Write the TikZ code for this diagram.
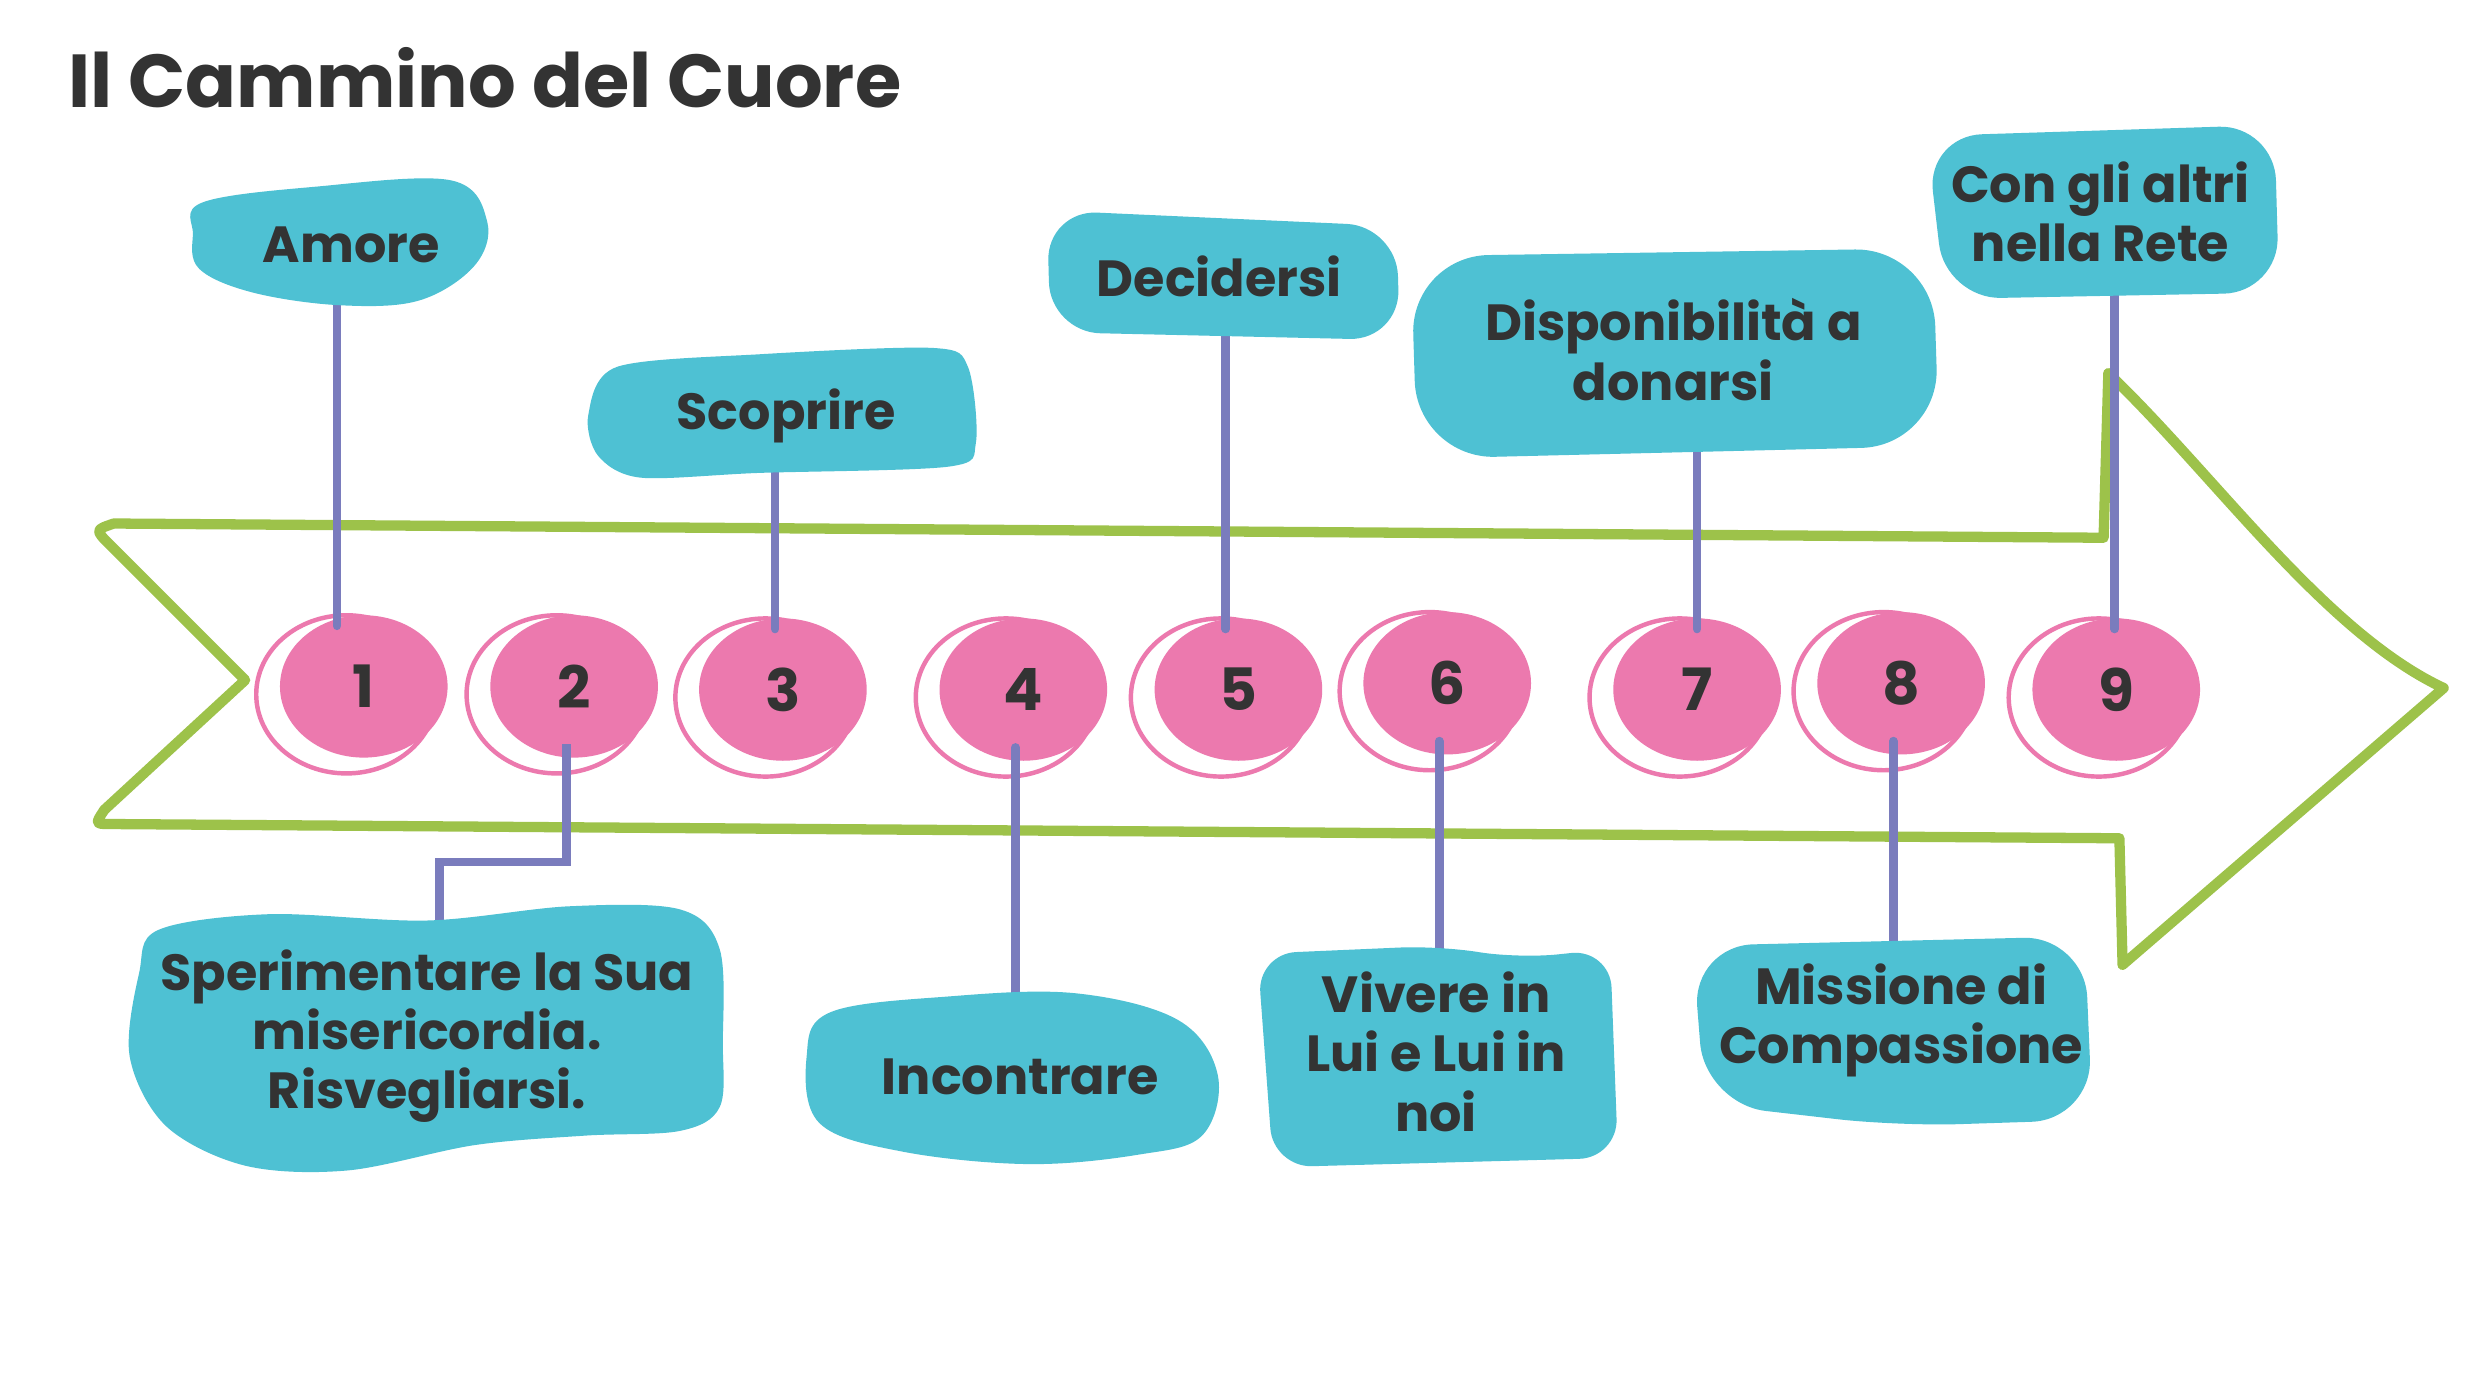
\documentclass[tikz,border=0pt]{standalone}
\usepackage{fontspec}
\setmainfont{Lato}
\newfontfamily\lblfont{Poppins}
\usetikzlibrary{shapes.geometric,calc}
\definecolor{grn}{HTML}{9DC24A}
\definecolor{pnk}{HTML}{EC79AE}
\definecolor{teal2}{HTML}{4EC1D3}
\definecolor{purp}{HTML}{7A7CBD}
\definecolor{ink}{HTML}{333333}
\pgfdeclarelayer{arrowL}\pgfdeclarelayer{circL}\pgfdeclarelayer{connL}
\pgfsetlayers{arrowL,circL,connL,main}
\begin{document}
\begin{tikzpicture}[x=0.02cm,y={(0,-0.02cm)},
  arrowline/.style={draw=grn,line width=3.7pt,line join=round},
  numc/.style={ellipse,fill=pnk,minimum width=2.12cm,minimum height=1.8cm,inner sep=0pt,
    text=ink,font=\lblfont\bfseries\fontsize{21}{22}\selectfont},
  ring/.style={draw=pnk,line width=1.6pt,fill=white},
  conn/.style={draw=purp,line width=3.1pt,line cap=round},
  blob/.style={fill=teal2},
  lbl/.style={text=ink,align=center,font=\lblfont\bfseries\fontsize{18.3}{21.3}\selectfont,inner sep=0pt}]
\useasboundingbox (0,0) rectangle (1568,868);

% title
\node[anchor=base west,text=ink,inner sep=0pt,font=\lblfont\bfseries\fontsize{27}{30}\selectfont] (title) at (43,68) {Il Cammino del Cuore};

% background and green arrow
\begin{pgfonlayer}{arrowL}
\fill[white] (0,0) rectangle (1568,868);
\draw[arrowline] (155,430) -- (70,345) .. controls (60,335) .. (72,331) -- (1330,340) -- (1333,236)
  .. controls (1400,300) and (1470,400) .. (1545,435) -- (1342,610) -- (1340,530) -- (70,521)
  .. controls (60,521) .. (66,512) -- cycle;
\end{pgfonlayer}

% circles
\begin{pgfonlayer}{circL}
\foreach \n/\x/\y in {1/230/434,2/363/434,3/495/436,4/647/436,5/783/436,6/915/432,7/1073/436,8/1202/432,9/1338/436}{
  \draw[ring] (\x-11,\y+5) ellipse [x radius=57, y radius=50];
  \node[numc] (c\n) at (\x,\y) {\n};
}
\end{pgfonlayer}

% blobs
\fill[blob] plot[smooth cycle,tension=0.6] coordinates {(128,128) (200,118) (285,114) (308,140) (300,168) (265,190) (215,193) (160,185) (126,170) (122,148)};
\fill[blob] plot[smooth cycle,tension=0.5] coordinates {(372,262) (390,232) (480,224) (590,220) (612,232) (617,280) (600,295) (480,299) (405,302) (378,288)};
\fill[blob,rounded corners=18] (662,133) -- (883,143) -- (885,215) -- (664,210) -- cycle;
\fill[blob,rounded corners=28] (892,162) -- (1222,157) -- (1226,282) -- (896,290) -- cycle;
\fill[blob,rounded corners=20] (1218,86) -- (1438,79) -- (1441,185) -- (1230,189) -- cycle;
\fill[blob] plot[smooth cycle,tension=0.55] coordinates {(100,588) (170,578) (270,582) (360,573) (430,575) (455,600) (457,660) (455,700) (430,715) (370,718) (300,724) (220,740) (155,737) (105,712) (82,668) (88,615)};
\fill[blob] plot[smooth cycle,tension=0.6] coordinates {(525,640) (600,630) (680,628) (745,645) (770,680) (760,718) (720,730) (650,736) (570,728) (518,710) (510,668)};
\fill[blob,rounded corners=14] (795,603) -- (910,598) -- (960,606) -- (1018,600) -- (1023,732) -- (805,738) -- cycle;
\fill[blob,rounded corners=22] (1070,598) -- (1318,592) -- (1323,708) -- (1200,712) -- (1078,698) -- cycle;

% labels
\node[lbl] (tA) at (222,155) {Amore};
\node[lbl] (tS) at (497,263) {Scoprire};
\node[lbl] (tD) at (771,175) {Decidersi};
\node[lbl] (tDi) at (1058,221) {Disponibilità a\\donarsi};
\node[lbl] (tC) at (1328,134) {Con gli altri\\nella Rete};
\node[lbl] (tSp) at (270,655) {Sperimentare la Sua\\misericordia.\\Risvegliarsi.};
\node[lbl] (tI) at (645,681) {Incontrare};
\node[lbl] (tV) at (908,665) {Vivere in\\Lui e Lui in\\noi};
\node[lbl] (tM) at (1202,645) {Missione di\\Compassione};

% connectors
\begin{pgfonlayer}{connL}
\draw[conn,shorten >=-4pt] (213,0 |- tA) -- (213,0 |- c1.north);
\coordinate (j2) at (278,545);
\draw[conn,line join=miter,line cap=butt,shorten <=-5pt] (358,0 |- c2.south) |- (j2) -- (j2 |- tSp);
\draw[conn,shorten >=-4pt] (490,0 |- tS) -- (490,0 |- c3.north);
\draw[conn,shorten <=-5pt] (642,0 |- c4.south) -- (642,0 |- tI);
\draw[conn,shorten >=-4pt] (775,0 |- tD) -- (775,0 |- c5.north);
\draw[conn,shorten <=-5pt] (910,0 |- c6.south) -- (910,0 |- tV);
\draw[conn,shorten >=-4pt] (1073,0 |- tDi) -- (1073,0 |- c7.north);
\draw[conn,shorten <=-5pt] (1197,0 |- c8.south) -- (1197,0 |- tM);
\draw[conn,shorten >=-4pt] (1337,0 |- tC) -- (1337,0 |- c9.north);
\end{pgfonlayer}
\end{tikzpicture}
\end{document}
